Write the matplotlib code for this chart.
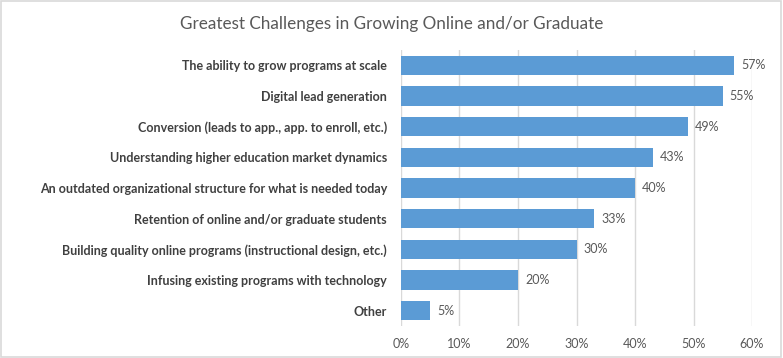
import matplotlib
matplotlib.use('Agg')
import matplotlib.pyplot as plt
from matplotlib.patches import Rectangle

# data (top to bottom as shown)
categories = [
    "The ability to grow programs at scale",
    "Digital lead generation",
    "Conversion (leads to app., app. to enroll, etc.)",
    "Understanding higher education market dynamics",
    "An outdated organizational structure for what is needed today",
    "Retention of online and/or graduate students",
    "Building quality online programs (instructional design, etc.)",
    "Infusing existing programs with technology",
    "Other",
]
values = [57, 55, 49, 43, 40, 33, 30, 20, 5]
ticks = [0, 10, 20, 30, 40, 50, 60]
tick_labels = [f"{t}%" for t in ticks]

plt.rcParams['font.family'] = ['Lato', 'DejaVu Sans']

fig = plt.figure(figsize=(7.83, 3.58), dpi=100)
ax = fig.add_axes([401 / 783, 1 - 326 / 358, (752 - 401) / 783, (326 - 50) / 358])

y = list(range(len(categories)))
ax.barh(y, values, height=0.62, color='#5B9BD5', zorder=3)
ax.set_ylim(len(categories) - 0.5, -0.5)
ax.set_xlim(0, 60)

for yi, v in zip(y, values):
    ax.text(v + 1.2, yi, f"{v}%", va='center', ha='left', fontsize=9,
            color='#595959', clip_on=False)

ax.set_yticks(y)
ax.set_yticklabels(categories, fontsize=9, fontweight='bold', color='#404040')
ax.set_xticks(ticks)
ax.set_xticklabels(tick_labels, fontsize=9, color='#595959')
ax.tick_params(length=0)
ax.tick_params(axis='y', pad=10)
ax.tick_params(axis='x', pad=9)
ax.grid(axis='x', color='#D9D9D9', linewidth=1, zorder=0)
for s in ax.spines.values():
    s.set_visible(False)

fig.text(0.5, 1 - 24 / 358, "Greatest Challenges in Growing Online and/or Graduate",
         ha='center', va='center', fontsize=12.3, color='#595959')

# light border around chart
fig.patches.append(Rectangle((0.001, 0.002), 0.997, 0.995, transform=fig.transFigure,
                             fill=False, edgecolor='#D9D9D9', linewidth=1.2))

fig.savefig('out.png', dpi=100)
